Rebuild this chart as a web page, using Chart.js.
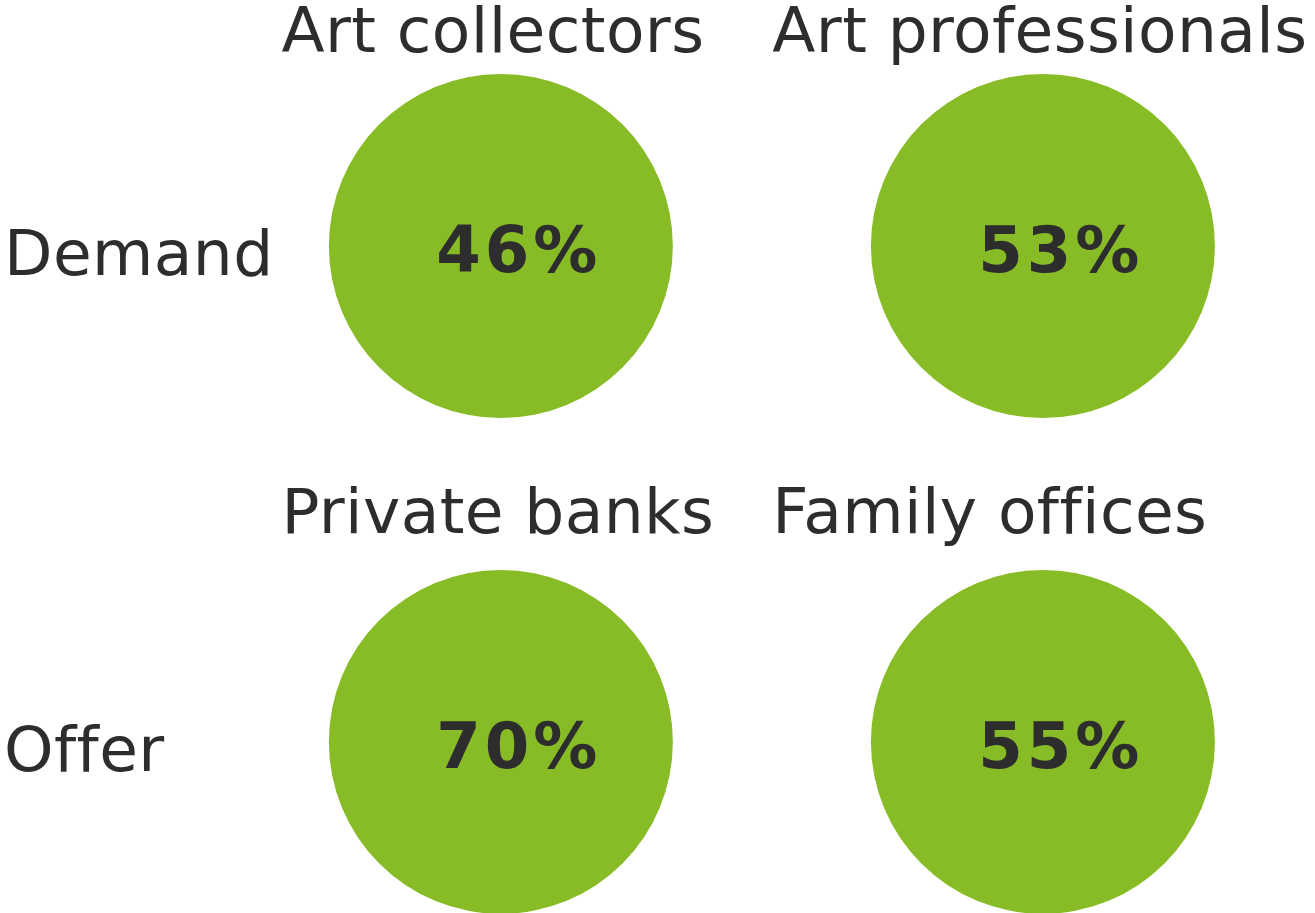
<!DOCTYPE html>
<html>
<head>
<meta charset="utf-8">
<title>Demand and offer</title>
<script src="https://cdn.jsdelivr.net/npm/chart.js"></script>
<style>
  html, body { margin: 0; padding: 0; background: #ffffff; }
  canvas { display: block; }
</style>
</head>
<body>
<canvas id="bubbles" width="1315" height="913"></canvas>
<script>
// rows and columns of the grid
const rowLabels = ["Demand", "Offer"];
const columnTitles = [
  ["Art collectors", "Art professionals"],
  ["Private banks", "Family offices"],
];
const shares = [
  [46, 53],
  [70, 55],
];

const GREEN = "#88bc27";
const INK = "#2d2d2d";
const FONT = "'DejaVu Sans', Verdana, sans-serif";

const points = [];
shares.forEach((row, r) => {
  row.forEach((v, c) => points.push({ x: c, y: r, value: v, title: columnTitles[r][c] }));
});

// labels: row names on the left, titles above and percentages inside the circles
const gridLabels = {
  id: "gridLabels",
  afterDatasetsDraw(chart, args, opts) {
    const ctx = chart.ctx;
    const els = chart.getDatasetMeta(0).data;
    ctx.save();
    ctx.fillStyle = INK;
    ctx.letterSpacing = "0.4px"; // keeps "ffi" from turning into a ligature

    // widest title per column, titles share a left edge
    ctx.font = "63px " + FONT;
    const colLeft = [];
    columnTitles[0].forEach((_, c) => {
      const widest = Math.max(...columnTitles.map((row) => ctx.measureText(row[c]).width));
      const el = els.find((e, i) => points[i].x === c);
      colLeft[c] = el.x - widest / 2;
    });

    els.forEach((el, i) => {
      const p = points[i];
      ctx.font = "63px " + FONT;
      ctx.letterSpacing = "0.4px";
      ctx.textAlign = "left";
      ctx.textBaseline = "alphabetic";
      ctx.fillText(p.title, colLeft[p.x] - 3, el.y + opts.titleOffset[p.y]);

      ctx.font = "bold 64px " + FONT;
      ctx.letterSpacing = "4px";
      ctx.textAlign = "left";
      const w = ctx.measureText(p.value + "%").width - 4;
      ctx.fillText(p.value + "%", el.x + 16 - w / 2, el.y + 26);
    });

    ctx.font = "63px " + FONT;
    ctx.letterSpacing = "0.4px";
    ctx.textAlign = "left";
    rowLabels.forEach((label, r) => {
      const y = chart.scales.y.getPixelForValue(r);
      ctx.fillText(label, 4, y + 29);
    });
    ctx.restore();
  },
};

new Chart(document.getElementById("bubbles"), {
  type: "scatter",
  data: {
    datasets: [{
      data: points,
      pointRadius: 172,
      pointHoverRadius: 172,
      pointBackgroundColor: GREEN,
      pointBorderWidth: 0,
      clip: false,
    }],
  },
  options: {
    responsive: false,
    animation: false,
    events: [],
    layout: { padding: 0, autoPadding: false },
    scales: {
      x: { type: "linear", display: false, min: -0.924, max: 1.502 },
      y: { type: "linear", display: false, reverse: true, min: -0.496, max: 1.345 },
    },
    plugins: {
      legend: { display: false },
      tooltip: { enabled: false },
      gridLabels: { titleOffset: [-194, -209] },
    },
  },
  plugins: [gridLabels],
});
</script>
</body>
</html>
